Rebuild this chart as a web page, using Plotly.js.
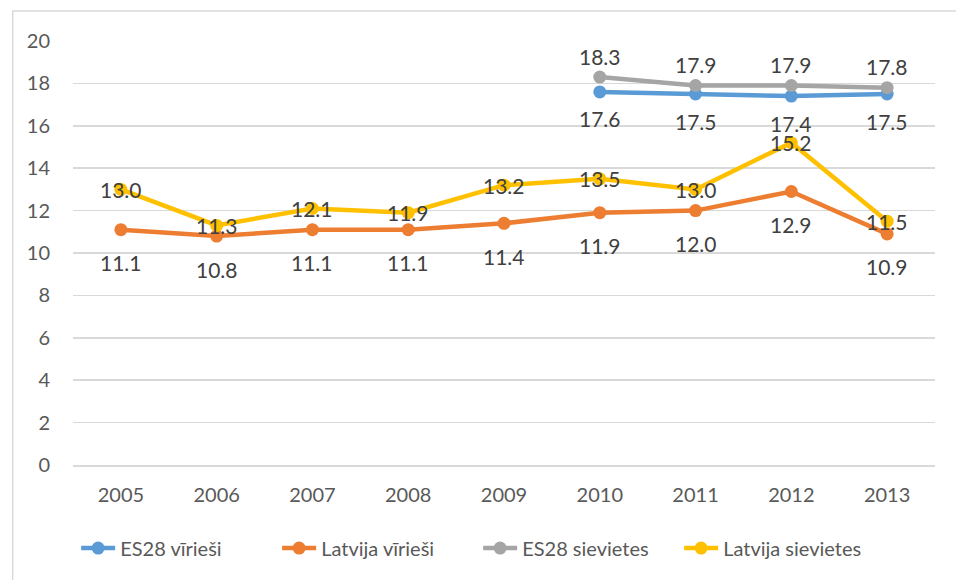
<!DOCTYPE html>
<html>
<head>
<meta charset="utf-8">
<script src="https://cdn.plot.ly/plotly-3.0.1.min.js"></script>
<style>html,body{margin:0;padding:0;background:#fff;}#chart{width:956px;height:580px;}</style>
</head>
<body>
<div id="chart"></div>
<script>
const years = ['2005','2006','2007','2008','2009','2010','2011','2012','2013'];
const es28Men = [null,null,null,null,null,17.6,17.5,17.4,17.5];
const lvMen = [11.1,10.8,11.1,11.1,11.4,11.9,12.0,12.9,10.9];
const es28Women = [null,null,null,null,null,18.3,17.9,17.9,17.8];
const lvWomen = [13.0,11.3,12.1,11.9,13.2,13.5,13.0,15.2,11.5];
const names = ['ES28 vīrieši','Latvija vīrieši','ES28 sievietes','Latvija sievietes'];
const colors = ['#5b9bd5','#ed7d31','#a5a5a5','#ffc000'];
const seriesData = [es28Men, lvMen, es28Women, lvWomen];
const labelShift = [-27, -33, 21, 0];
const FONT = 'Lato, "Open Sans", sans-serif';

const traces = seriesData.map((d,i)=>({
  x: years, y: d, name: names[i], type:'scatter', mode:'lines+markers',
  line:{color:colors[i], width:4.5}, marker:{color:colors[i], size:13},
  connectgaps:false, hoverinfo:'skip'
}));

const annotations = [];
seriesData.forEach((d,i)=>{
  d.forEach((v,j)=>{
    if(v===null) return;
    annotations.push({xref:'x', yref:'y', x:j, y:v, text:v.toFixed(1), showarrow:false,
      yshift:labelShift[i], font:{family:FONT, size:21, color:'#404040'}});
  });
});

const layout = {
  width:956, height:580,
  margin:{l:73, r:21, t:41, b:115},
  paper_bgcolor:'#fff', plot_bgcolor:'#fff',
  font:{family:FONT, color:'#595959', size:20},
  xaxis:{type:'category', range:[-0.5,8.5], showgrid:false, zeroline:false,
    showline:true, linecolor:'#d9d9d9', linewidth:1.5, ticks:'', tickfont:{size:20, color:'#595959'}, ticklabelstandoff:11, fixedrange:true},
  yaxis:{range:[0,20], dtick:2, tick0:0, showgrid:true, gridcolor:'#d9d9d9', gridwidth:1.5,
    zeroline:false, showline:false, ticks:'', tickfont:{size:20, color:'#595959'}, ticklabelstandoff:22, fixedrange:true},
  legend:{orientation:'h', x:0.470, xanchor:'center', y:-0.15, yanchor:'top', font:{size:20, color:'#595959'}, itemwidth:34, entrywidth:152, traceorder:'normal'},
  showlegend:true,
  annotations: annotations,
  shapes:[{type:'rect', xref:'paper', yref:'paper', x0:-0.07, x1:1.05, y0:-0.32, y1:1.071, line:{color:'#d9d9d9', width:1.5}, fillcolor:'rgba(0,0,0,0)', layer:'below'}]
};
Plotly.newPlot('chart', traces, layout, {displayModeBar:false, staticPlot:true});
</script>
</body>
</html>
